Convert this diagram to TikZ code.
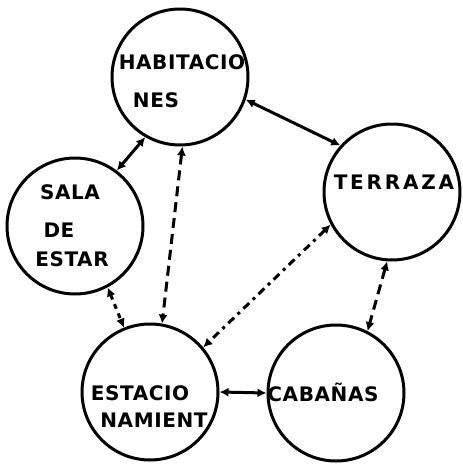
\documentclass[tikz,border=0pt]{standalone}
\usepackage{fontspec}
\newfontfamily\roomfont[LetterSpace=3]{DejaVu Sans}
\newfontfamily\widefont[LetterSpace=14]{DejaVu Sans}
\usetikzlibrary{arrows.meta}
\tikzset{
  room/.style={circle, draw, line width=3pt, minimum size=136pt, inner sep=0pt},
  word/.style={font=\roomfont\bfseries\fontsize{20}{20}\selectfont, inner sep=0pt},
  wideword/.style={word, font=\widefont\bfseries\fontsize{20}{20}\selectfont},
  link/.style={{Latex[length=9pt,width=9pt]}-{Latex[length=9pt,width=9pt]}, line width=3pt},
  dashlink/.style={link, dash pattern=on 10pt off 6pt},
  dotlink/.style={link, dash pattern=on 5pt off 5pt},
  dashdotlink/.style={link, dash pattern=on 8pt off 5pt on 3pt off 5pt}
}
\begin{document}
\begin{tikzpicture}[x=1pt,y=-1pt]
      \useasboundingbox (0,0) rectangle (463,466);
      \draw
        (180,77) node[room] (hab){}
        (75,226) node[room] (sala){}
        (392,192) node[room] (ter){}
        (150,392) node[room] (est){}
        (336,393) node[room] (cab){};
      \draw
        (182,62) node[word] (hab1){HABITACIO}
        (156,100) node[word] (hab2){NES}
        (70,192) node[word] (sala1){SALA}
        (59,230) node[word] (sala2){DE}
        (72,259) node[word] (sala3){ESTAR}
        (394,182) node[wideword] (ter1){TERRAZA}
        (140,393) node[word] (est1){ESTACIO}
        (154,420) node[word] (est2){NAMIENT}
        (323,392) node[word] (cab1){CABAÑAS};
      \begin{scope}[link]
        \draw (hab.-19) to (ter.138);
        \draw (hab.-120) to (sala.53);
        \draw[dashlink] (hab.-88) to (est.80);
        \draw[dotlink] (sala.-62) to (est.112);
        \draw[dashdotlink] (ter.-152) to (est.40);
        \draw[dashlink] (ter.-94) to (cab.63);
        \draw (est.0) to (cab.180);
      \end{scope}
    \end{tikzpicture}
\end{document}
